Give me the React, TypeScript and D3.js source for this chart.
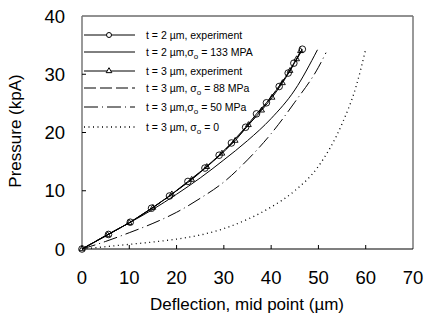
import React, { useEffect, useRef } from "react";
import * as d3 from "d3";

// t = 2 um experiment (circles)
const exp2X = [0, 5.6, 10.2, 14.7, 18.5, 22.4, 26.0, 29.0, 31.6, 34.6, 36.9, 39.0, 41.7, 43.6, 44.8, 46.6];
const exp2Y = [0, 2.5, 4.6, 7.0, 9.1, 11.6, 13.9, 16.1, 18.2, 20.9, 23.2, 25.1, 27.9, 30.2, 31.9, 34.3];

// t = 3 um experiment (triangles)
const exp3X = [0, 5.4, 10.0, 15.0, 19.0, 23.2, 26.4, 29.6, 32.4, 35.2, 38.0, 40.2, 42.4, 44.0, 45.4, 46.2];
const exp3Y = [0, 2.4, 4.5, 7.1, 9.4, 11.9, 14.1, 16.4, 18.6, 21.3, 23.8, 26.0, 28.5, 30.6, 32.6, 34.0];

// model curves
const fit133X = [0, 5, 10, 15, 20, 25, 30, 35, 40, 45, 49.8];
const fit133Y = [0, 2.3, 4.5, 6.8, 9.4, 12.2, 15.3, 18.6, 22.4, 27.3, 34.2];

const fit88X = [0, 5, 10, 15, 20, 25, 30, 35, 40, 45, 46.6];
const fit88Y = [0, 2.3, 4.5, 7.1, 10.0, 13.2, 16.8, 21.1, 26.1, 32.0, 34.2];

const fit50X = [0, 5, 10, 15, 20, 25, 30, 35, 40, 45, 50, 51.6];
const fit50Y = [0, 1.3, 2.8, 4.4, 6.3, 8.7, 11.5, 15.3, 19.8, 25.2, 31.2, 33.7];

const fit0X = [0, 5, 10, 15, 20, 25, 30, 35, 40, 45, 50, 55, 58, 60];
const fit0Y = [0, 0.4, 0.8, 1.2, 1.7, 2.4, 3.5, 5.1, 7.2, 10.0, 14.2, 21.5, 28.0, 34.3];

const xTicks = [0, 10, 20, 30, 40, 50, 60, 70];
const yTicks = [0, 10, 20, 30, 40];

const legendLabels = [
  ["t = 2 \u00b5m, experiment", ""],
  ["t = 2 \u00b5m,\u03c3", " = 133 MPA"],
  ["t = 3 \u00b5m, experiment", ""],
  ["t = 3 \u00b5m,  \u03c3", " = 88 MPa"],
  ["t = 3 \u00b5m,\u03c3", " = 50 MPa"],
  ["t = 3 \u00b5m, \u03c3", " = 0"],
];
const legendDash = ["", "", "", "12,4", "14,4,1,4", "1,3.5"];

const zip = (xs: number[], ys: number[]) => xs.map((x, i) => [x, ys[i]] as [number, number]);

export default function App() {
  const ref = useRef<SVGSVGElement>(null);

  useEffect(() => {
    const svg = d3.select(ref.current);
    svg.selectAll("*").remove();
    const font = "Liberation Sans, Arial, sans-serif";

    const x = d3.scaleLinear().domain([0, 70]).range([82, 413]);
    const y = d3.scaleLinear().domain([0, 40]).range([249, 16]);

    // frame
    svg.append("line").attr("x1", 82).attr("x2", 413).attr("y1", 16).attr("y2", 16)
      .attr("stroke", "#222").attr("stroke-width", 1);
    svg.append("line").attr("x1", 413).attr("x2", 413).attr("y1", 16).attr("y2", 249)
      .attr("stroke", "#777").attr("stroke-width", 1.5);
    svg.append("line").attr("x1", 82).attr("x2", 82).attr("y1", 16).attr("y2", 249)
      .attr("stroke", "#777").attr("stroke-width", 1.5);
    svg.append("line").attr("x1", 82).attr("x2", 413).attr("y1", 249).attr("y2", 249)
      .attr("stroke", "#000").attr("stroke-width", 1.2);

    // ticks (inward) and labels
    xTicks.forEach(t => {
      if (t > 0 && t < 70) {
        svg.append("line").attr("x1", x(t)).attr("x2", x(t)).attr("y1", 249).attr("y2", 245)
          .attr("stroke", "#000");
      }
      svg.append("text").attr("x", x(t)).attr("y", 284).attr("text-anchor", "middle")
        .attr("font-family", font).attr("font-size", 18.5).text(t);
    });
    yTicks.forEach(t => {
      if (t > 0 && t < 40) {
        svg.append("line").attr("x1", 82).attr("x2", 86).attr("y1", y(t)).attr("y2", y(t))
          .attr("stroke", "#000");
      }
      svg.append("text").attr("x", 65).attr("y", y(t) + 6.5).attr("text-anchor", "end")
        .attr("font-family", font).attr("font-size", 18.5).text(t);
    });

    svg.append("text").attr("x", 247).attr("y", 310).attr("text-anchor", "middle")
      .attr("font-family", font).attr("font-size", 17).text("Deflection, mid point (\u00b5m)");
    svg.append("text").attr("transform", "translate(21,131) rotate(-90)").attr("text-anchor", "middle")
      .attr("font-family", font).attr("font-size", 17).text("Pressure (kpA)");

    const smooth = d3.line<[number, number]>().x(d => x(d[0])).y(d => y(d[1])).curve(d3.curveMonotoneX);
    const straight = d3.line<[number, number]>().x(d => x(d[0])).y(d => y(d[1]));

    const curves = [
      { pts: zip(fit0X, fit0Y), dash: legendDash[5], w: 1.3 },
      { pts: zip(fit50X, fit50Y), dash: legendDash[4], w: 1 },
      { pts: zip(fit88X, fit88Y), dash: legendDash[3], w: 1 },
      { pts: zip(fit133X, fit133Y), dash: "", w: 1 },
    ];
    curves.forEach(c => {
      svg.append("path").attr("d", smooth(c.pts)).attr("fill", "none").attr("stroke", "#000")
        .attr("stroke-width", c.w).attr("stroke-dasharray", c.dash || null);
    });

    // experiment lines and markers
    const e2 = zip(exp2X, exp2Y);
    const e3 = zip(exp3X, exp3Y);
    svg.append("path").attr("d", straight(e3)).attr("fill", "none").attr("stroke", "#000").attr("stroke-width", 1);
    svg.append("path").attr("d", straight(e2)).attr("fill", "none").attr("stroke", "#000").attr("stroke-width", 1);

    const tri = d3.symbol().type(d3.symbolTriangle).size(14);
    svg.append("g").selectAll("path").data(e3).join("path")
      .attr("d", tri).attr("transform", d => `translate(${x(d[0])},${y(d[1])})`)
      .attr("fill", "none").attr("stroke", "#000").attr("stroke-width", 0.9);
    svg.append("g").selectAll("circle").data(e2).join("circle")
      .attr("cx", d => x(d[0])).attr("cy", d => y(d[1])).attr("r", 3.3)
      .attr("fill", "none").attr("stroke", "#000").attr("stroke-width", 0.9);

    // legend
    const rowY = [35, 52, 71, 88, 107, 127];
    legendLabels.forEach((lab, i) => {
      const yy = rowY[i];
      svg.append("line").attr("x1", 84).attr("x2", 135).attr("y1", yy).attr("y2", yy)
        .attr("stroke", "#000").attr("stroke-width", i === 5 ? 1.3 : 1)
        .attr("stroke-dasharray", legendDash[i] || null);
      if (i === 0) {
        svg.append("circle").attr("cx", 109).attr("cy", yy).attr("r", 2.5)
          .attr("fill", "#fff").attr("stroke", "#000");
      }
      if (i === 2) {
        svg.append("path").attr("d", tri).attr("transform", `translate(109,${yy})`)
          .attr("fill", "#fff").attr("stroke", "#000");
      }
      const txt = svg.append("text").attr("x", 146).attr("y", yy + 4)
        .attr("font-family", font).attr("font-size", 10.5);
      txt.append("tspan").text(lab[0]);
      if (lab[1]) {
        txt.append("tspan").attr("dy", 3).attr("font-size", 8).text("o");
        txt.append("tspan").attr("dy", -3).text(lab[1]);
      }
    });
  }, []);

  return (
    <svg ref={ref} width={427} height={322}
      style={{ position: "absolute", left: 0, top: 0, background: "#fff" }} />
  );
}
